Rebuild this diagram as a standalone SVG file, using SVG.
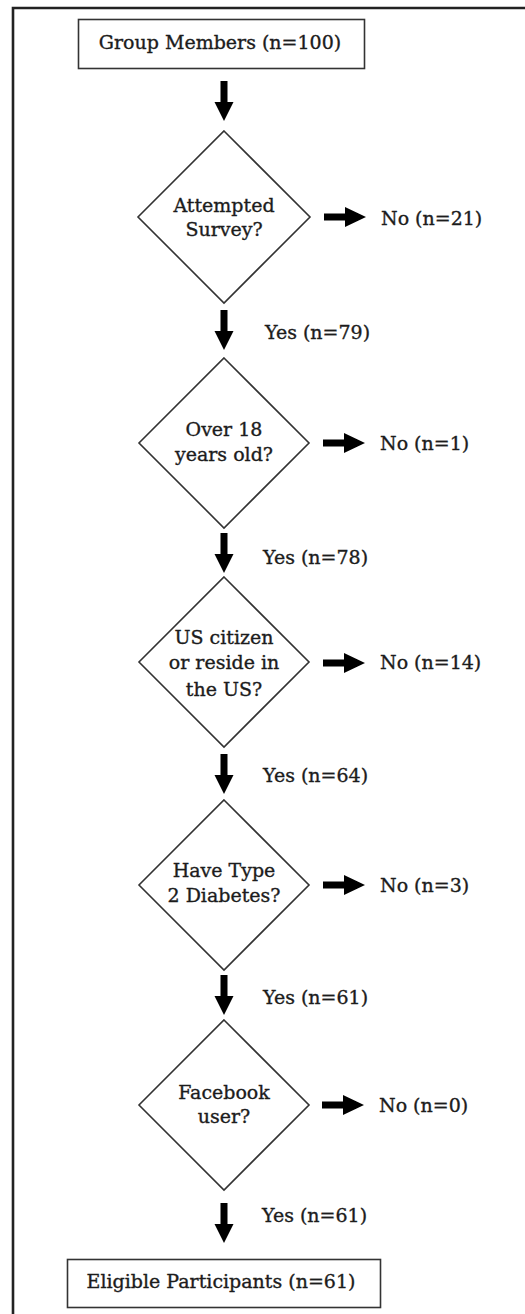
<svg xmlns="http://www.w3.org/2000/svg" xmlns:xlink="http://www.w3.org/1999/xlink" width="525" height="1314" viewBox="0 0 525 1314">
<style>
.t{font-family:"DejaVu Serif","Liberation Serif",serif;font-size:19px;fill:#1c1c1c;stroke:#1c1c1c;stroke-width:0.35}
.m{text-anchor:middle}
.box{fill:#fff;stroke:#333;stroke-width:1.6}
.dia{fill:#fff;stroke:#333;stroke-width:1.6}
.arr{fill:#000}
</style>
<defs>
<path id="down" class="arr" d="M -3.5 0 H 3.5 V 21 H 9.5 L 0 40 L -9.5 21 H -3.5 Z"/>
<path id="right" class="arr" d="M 0 -3.5 H 21 V -10 L 42 0 L 21 10 V 3.5 H 0 Z"/>
</defs>
<rect width="525" height="1314" fill="#fff"/>
<path d="M 13 1320 V 8 H 530" fill="none" stroke="#222" stroke-width="2.6"/>

<g id="start">
<rect class="box" x="78.5" y="19.5" width="286" height="49"/>
<text class="t m" x="220" y="49">Group Members (n=100)</text>
</g>

<g id="d1">
<polygon class="dia" points="224,131 310,217 224,303 138,217"/>
<text class="t m" x="224" y="212">Attempted</text>
<text class="t m" x="224" y="236">Survey?</text>
</g>
<g id="no1"><text class="t" x="381" y="225">No (n=21)</text></g>

<g id="d2">
<polygon class="dia" points="224,358 309,443 224,528 139,443"/>
<text class="t m" x="224" y="436">Over 18</text>
<text class="t m" x="224" y="461">years old?</text>
</g>
<g id="no2"><text class="t" x="380" y="450">No (n=1)</text></g>

<g id="d3">
<polygon class="dia" points="224,577 309,662 224,747 139,662"/>
<text class="t m" x="224" y="644">US citizen</text>
<text class="t m" x="224" y="669">or reside in</text>
<text class="t m" x="224" y="696">the US?</text>
</g>
<g id="no3"><text class="t" x="380" y="669">No (n=14)</text></g>

<g id="d4">
<polygon class="dia" points="224,800 309,885 224,970 139,885"/>
<text class="t m" x="224" y="877">Have Type</text>
<text class="t m" x="224" y="902">2 Diabetes?</text>
</g>
<g id="no4"><text class="t" x="380" y="892">No (n=3)</text></g>

<g id="d5">
<polygon class="dia" points="224,1020 309,1105 224,1190 139,1105"/>
<text class="t m" x="224" y="1099">Facebook</text>
<text class="t m" x="224" y="1123">user?</text>
</g>
<g id="no5"><text class="t" x="379" y="1112">No (n=0)</text></g>

<g id="end">
<rect class="box" x="67.5" y="1259.5" width="313" height="48"/>
<text class="t m" x="221" y="1288">Eligible Participants (n=61)</text>
</g>

<g id="connectors">
<use xlink:href="#down" x="224" y="81"/>
<use xlink:href="#down" x="224" y="310"/>
<use xlink:href="#down" x="224" y="533"/>
<use xlink:href="#down" x="224" y="754"/>
<use xlink:href="#down" x="224" y="975"/>
<use xlink:href="#down" x="224" y="1203"/>
<use xlink:href="#right" x="324" y="217"/>
<use xlink:href="#right" x="323" y="443"/>
<use xlink:href="#right" x="323" y="663"/>
<use xlink:href="#right" x="323" y="885"/>
<use xlink:href="#right" x="322" y="1105"/>
<text class="t" x="265" y="339">Yes (n=79)</text>
<text class="t" x="263" y="564">Yes (n=78)</text>
<text class="t" x="263" y="782">Yes (n=64)</text>
<text class="t" x="263" y="1004">Yes (n=61)</text>
<text class="t" x="262" y="1222">Yes (n=61)</text>
</g>
</svg>
